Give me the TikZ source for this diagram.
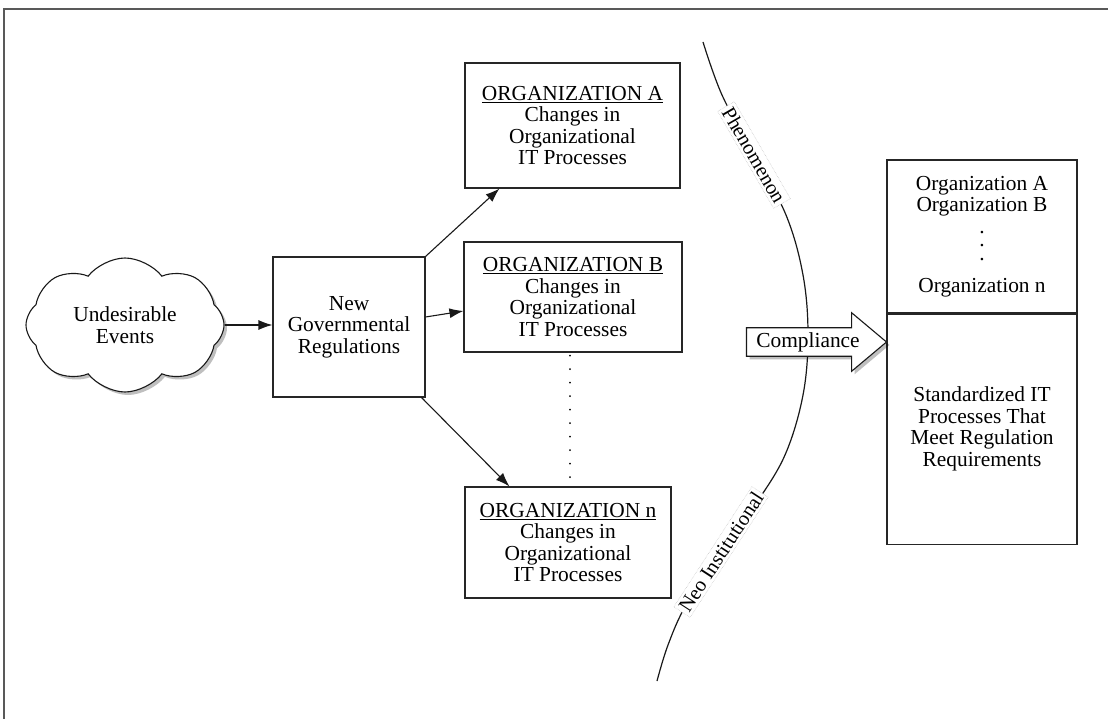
\documentclass[tikz,border=0pt]{standalone}
\usepackage{fontspec}
\setmainfont{Liberation Serif}
\usetikzlibrary{shapes.symbols,shapes.arrows,arrows.meta,shadows,calc}
\newcommand\diagfont{\fontsize{21.4}{21.5}\selectfont}
\newcommand\lblfont{\fontsize{20.5}{21}\selectfont}
\begin{document}
\begin{tikzpicture}[x=1pt,y=-1pt,
  box/.style={draw=black!85, line width=1.1pt, fill=white, align=center, inner sep=0pt, font=\diagfont},
  arr/.style={-{Latex[length=14pt,width=10pt]}, line width=1.1pt, black!90},
  softshadow/.style={drop shadow={shadow xshift=3pt, shadow yshift=-3pt, opacity=0.25, fill=black}},
  curvelbl/.style={fill=white, draw=black!25, densely dotted, line width=0.5pt, inner sep=2.5pt, font=\lblfont},
]
\useasboundingbox (0,0) rectangle (1108,719);
% frame
\draw[line width=2pt, black!65] (4,730) -- (4,9) -- (1120,9);

% cloud
\node[cloud, cloud puffs=8, cloud puff arc=105, aspect=1.45, draw=black!90, line width=1.1pt, fill=white,
      softshadow, minimum width=198pt, minimum height=134pt, inner sep=0pt, align=center, font=\diagfont]
      (cloud) at (125,325) {Undesirable\\Events};

% regulations
\node[box, minimum width=152pt, minimum height=140pt] (ngr) at (349,327) {New\\Governmental\\Regulations};

% organizations
\node[box, minimum width=215pt, minimum height=125pt] (orga) at (572.5,125.5)
  {\underline{ORGANIZATION A}\\Changes in\\Organizational\\IT Processes};
\node[box, minimum width=218pt, minimum height=110pt] (orgb) at (573,297)
  {\underline{ORGANIZATION B}\\Changes in\\Organizational\\IT Processes};
\node[box, minimum width=206pt, minimum height=111pt] (orgn) at (568,542.5)
  {\underline{ORGANIZATION n}\\Changes in\\Organizational\\IT Processes};

% result box
\node[box, minimum width=190pt, minimum height=153pt] (res1) at (982,236.5)
  {Organization A\\Organization B\\.\\[-8pt].\\[-8pt].\\[11pt]Organization n};
\node[box, minimum width=190pt, minimum height=230pt, anchor=north] (res2) at (res1.south)
  {Standardized IT\\Processes That\\Meet Regulation\\Requirements};

% curve
\draw[line width=1.2pt, black!90] plot[smooth, tension=0.6] coordinates
  {(703,42) (722,95) (754,155) (786,215) (803,275) (808,335) (803,395) (785,455) (755,505) (721,552) (686,605) (668,645) (657,681)};
\node[curvelbl, rotate=-60] (phen) at (754,155) {Phenomenon};
\node[curvelbl, rotate=57] (neo) at (721,552) {Neo Institutional};

% compliance arrow
\node[single arrow, draw=black!90, line width=1.1pt, fill=white, softshadow,
      minimum height=140pt, minimum width=57pt, single arrow head extend=15pt,
      single arrow tip angle=80, inner xsep=4pt, inner ysep=4pt, font=\diagfont]
      (comp) at (808,342) {Compliance};

% connectors
\draw[arr] (cloud.east) -- (cloud.east -| ngr.west);
\draw[arr] (ngr.north east) -- ($(orga.south west)+(35,0)$);
\draw[arr] ($(ngr.east)+(0,-10)$) -- ($(orgb.west)+(0,14)$);
\draw[arr] ($(ngr.south east)+(-4,0)$) -- ($(orgn.north west)+(45,0)$);
\draw[line width=2pt, dash pattern=on 0.01pt off 13.5pt, line cap=round]
  ($(orgb.south west)+(107,3)$) -- ($(orgn.north west)+(106,-9)$);
\end{tikzpicture}
\end{document}
